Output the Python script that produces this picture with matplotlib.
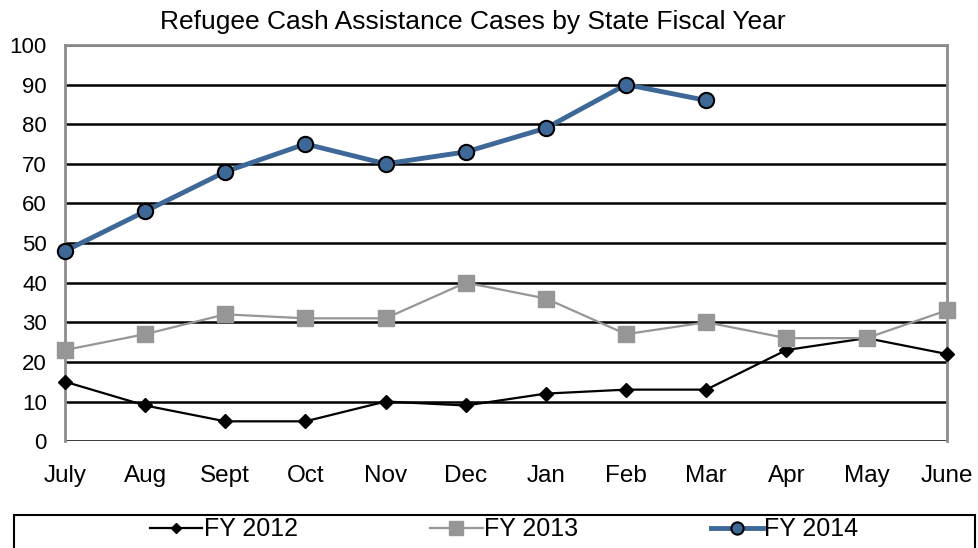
import matplotlib
matplotlib.use("Agg")
import matplotlib.pyplot as plt
from matplotlib.patches import Rectangle

plt.rcParams['font.family'] = ['Liberation Sans', 'DejaVu Sans']

months = ["July", "Aug", "Sept", "Oct", "Nov", "Dec", "Jan", "Feb", "Mar", "Apr", "May", "June"]
fy2012 = [15, 9, 5, 5, 10, 9, 12, 13, 13, 23, 26, 22]
fy2013 = [23, 27, 32, 31, 31, 40, 36, 27, 30, 26, 26, 33]
fy2014 = [48, 58, 68, 75, 70, 73, 79, 90, 86]
yticks = list(range(0, 101, 10))

fig = plt.figure(figsize=(9.79, 5.48), dpi=100)
ax = fig.add_axes([0.0664, 0.195, 0.9006, 0.723])

x = list(range(len(months)))

# horizontal gridlines, black
for y in yticks:
    ax.axhline(y, color='black', lw=1.8, zorder=1)

ax.plot(x, fy2012, color='black', lw=1.6, marker='D', markersize=7,
        markerfacecolor='black', markeredgecolor='black', label='FY 2012', zorder=3, clip_on=False)
ax.plot(x, fy2013, color='#969696', lw=1.6, marker='s', markersize=12,
        markerfacecolor='#969696', markeredgecolor='#969696', label='FY 2013', zorder=3, clip_on=False)
ax.plot(x[:len(fy2014)], fy2014, color='#3D6898', lw=3.5, marker='o', markersize=11,
        markerfacecolor='#3D6898', markeredgecolor='black', markeredgewidth=1.5,
        label='FY 2014', zorder=4, clip_on=False)

ax.set_xlim(0, 11)
ax.set_ylim(0, 100)
ax.set_yticks(yticks)
ax.set_xticks(x)
ax.set_xticklabels(months)
ax.tick_params(axis='both', length=0, colors='black')
ax.tick_params(axis='x', pad=17, labelsize=17.5)
ax.tick_params(axis='y', pad=13, labelsize=16)

for side in ['left', 'top', 'right']:
    ax.spines[side].set_color('#8c8c8c')
    ax.spines[side].set_linewidth(2)
ax.spines['bottom'].set_visible(False)

fig.text(0.483, 0.96, "Refugee Cash Assistance Cases by State Fiscal Year",
         ha='center', va='center', fontsize=19)

# legend box
fig.patches.append(Rectangle((14 / 979, -0.05), 961 / 979, 0.11, transform=fig.transFigure,
                             fill=False, edgecolor='black', lw=1.5))
handles, labels = ax.get_legend_handles_labels()
fig.legend(handles, labels, ncol=3, loc='center', bbox_to_anchor=(0.515, 0.034),
           frameon=False, fontsize=18, handlelength=2.1, handletextpad=0.05,
           columnspacing=5.3, markerscale=0.8)

fig.savefig("out.png", dpi=100)
